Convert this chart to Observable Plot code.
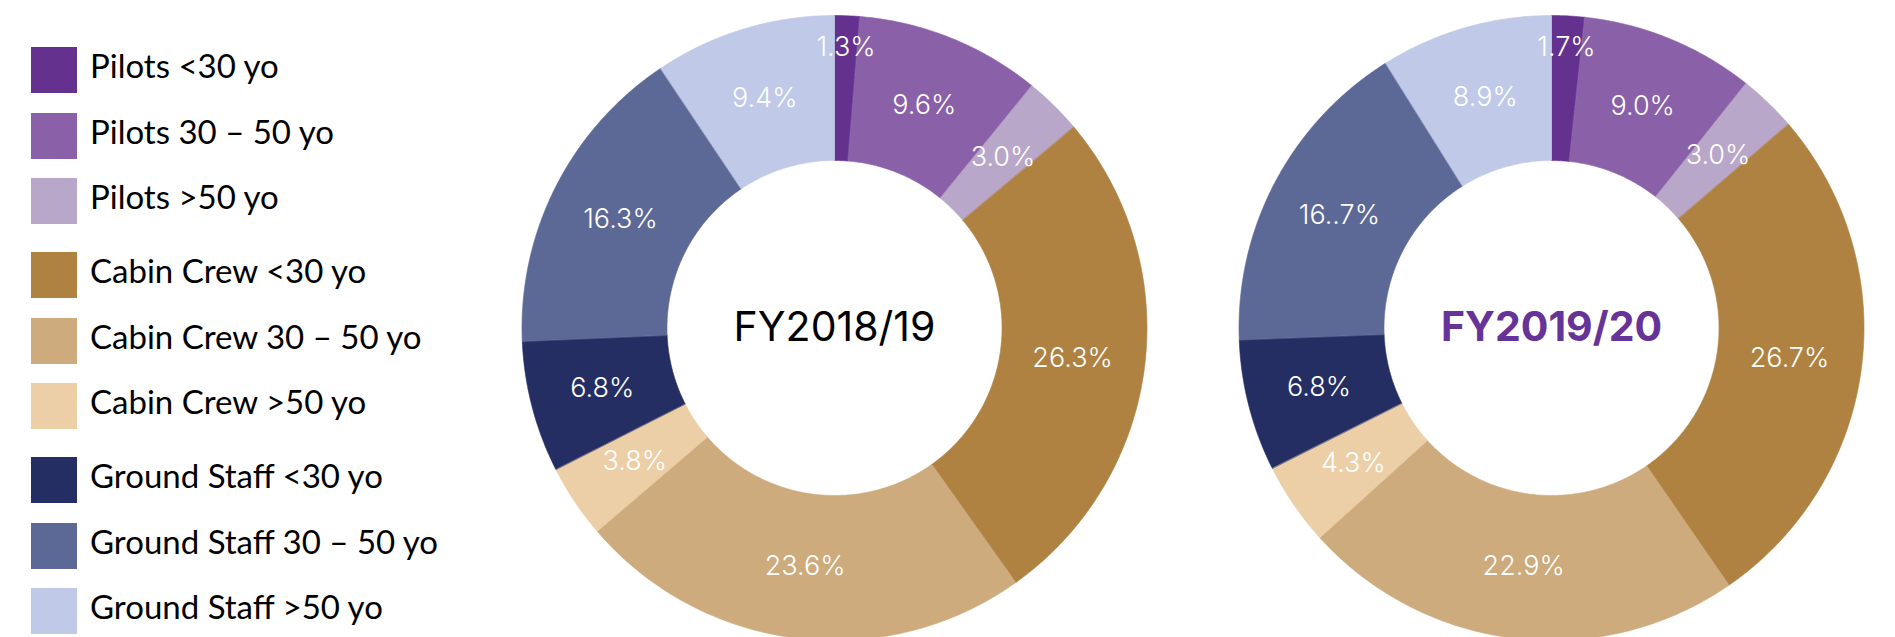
<!DOCTYPE html>
<html>
<head>
<meta charset="utf-8">
<script src="https://cdn.jsdelivr.net/npm/d3@7"></script>
<script src="https://cdn.jsdelivr.net/npm/@observablehq/plot@0.6"></script>
<style>
  html, body { margin: 0; padding: 0; background: #fff; }
  #root { position: relative; width: 1895px; height: 637px; overflow: hidden; background: #fff; }
  .legend { position: absolute; left: 0; top: 0; font-family: Lato, sans-serif; color: #000; }
  .item { position: absolute; left: 31px; height: 46px; display: flex; align-items: center; white-space: nowrap; }
  .sw { width: 46px; height: 46px; margin-right: 13px; flex: none; }
  .lab { font-size: 33px; line-height: 46px; position: relative; top: -5px; }
  .donut { position: absolute; top: 0; }
</style>
</head>
<body>
<div id="root"></div>
<script>
// ---- data ----
const categories = [
  "Pilots <30 yo", "Pilots 30 – 50 yo", "Pilots >50 yo",
  "Cabin Crew <30 yo", "Cabin Crew 30 – 50 yo", "Cabin Crew >50 yo",
  "Ground Staff <30 yo", "Ground Staff 30 – 50 yo", "Ground Staff >50 yo"
];
const groups = ["Pilots", "Pilots", "Pilots", "Cabin Crew", "Cabin Crew", "Cabin Crew", "Ground Staff", "Ground Staff", "Ground Staff"];
const colors = ["#65318e", "#8a60a8", "#b9a7ca", "#af8242", "#cdab7c", "#eccfa7", "#242e63", "#5c6896", "#c0c9e7"];
const years = ["FY2018/19", "FY2019/20"];
const values2018 = [1.3, 9.6, 3.0, 26.3, 23.6, 3.8, 6.8, 16.3, 9.4];
const values2019 = [1.7, 9.0, 3.0, 26.7, 22.9, 4.3, 6.8, 16.7, 8.9];
const labels2018 = ["1.3%", "9.6%", "3.0%", "26.3%", "23.6%", "3.8%", "6.8%", "16.3%", "9.4%"];
const labels2019 = ["1.7%", "9.0%", "3.0%", "26.7%", "22.9%", "4.3%", "6.8%", "16..7%", "8.9%"];

// ---- layout constants ----
const R_OUT = 1, R_IN = 0.536, R_LAB = 0.768;
const root = document.getElementById("root");

// legend
const legend = document.createElement("div");
legend.className = "legend";
let yPos = 47;
categories.forEach((c, i) => {
  if (i > 0) yPos += (groups[i] !== groups[i - 1]) ? 74 : 65.5;
  const it = document.createElement("div");
  it.className = "item";
  it.style.top = yPos + "px";
  const sw = document.createElement("div");
  sw.className = "sw";
  sw.style.background = colors[i];
  const lb = document.createElement("span");
  lb.className = "lab";
  lb.textContent = c;
  it.appendChild(sw); it.appendChild(lb);
  legend.appendChild(it);
});
root.appendChild(legend);

function donut(values, labels, title, titleStyle) {
  const total = d3.sum(values);
  const arcs = [];
  const labs = [];
  let cum = 0;
  values.forEach((v, i) => {
    const a0 = 2 * Math.PI * cum / total;
    const a1 = 2 * Math.PI * (cum + v) / total;
    cum += v;
    const n = Math.max(3, Math.ceil(v * 6));
    for (let k = 0; k <= n; k++) {
      const a = a0 + (a1 - a0) * k / n;
      arcs.push({cat: categories[i], x: R_OUT * Math.sin(a), y: R_OUT * Math.cos(a)});
    }
    for (let k = n; k >= 0; k--) {
      const a = a0 + (a1 - a0) * k / n;
      arcs.push({cat: categories[i], x: R_IN * Math.sin(a), y: R_IN * Math.cos(a)});
    }
    const am = (a0 + a1) / 2;
    const rl = v < 2 ? 0.9 : R_LAB;
    labs.push({x: rl * Math.sin(am), y: rl * Math.cos(am), text: labels[i]});
  });
  return Plot.plot({
    width: 680,
    height: 637,
    margin: 0,
    x: {domain: [-1.088, 1.088], axis: null},
    y: {domain: [-0.9904, 1.048], axis: null},
    color: {domain: categories, range: colors},
    marks: [
      Plot.line(arcs, {x: "x", y: "y", z: "cat", fill: "cat", stroke: "cat", strokeWidth: 0.6, curve: "linear-closed"}),
      Plot.text(labs, {x: "x", y: "y", text: "text", fill: "white", fontSize: 27, fontFamily: "Inter, sans-serif", fontWeight: 300}),
      Plot.text([title], {x: () => 0, y: () => 0, text: d => d, fontSize: 41, fontFamily: "Inter, sans-serif", ...titleStyle})
    ]
  });
}

const d1 = donut(values2018, labels2018, years[0], {fill: "#000", fontWeight: 400});
d1.classList.add("donut");
d1.style.left = "493.5px";
root.appendChild(d1);

const d2 = donut(values2019, labels2019, years[1], {fill: "#663399", fontWeight: 700});
d2.classList.add("donut");
d2.style.left = "1210.5px";
root.appendChild(d2);
</script>
</body>
</html>
